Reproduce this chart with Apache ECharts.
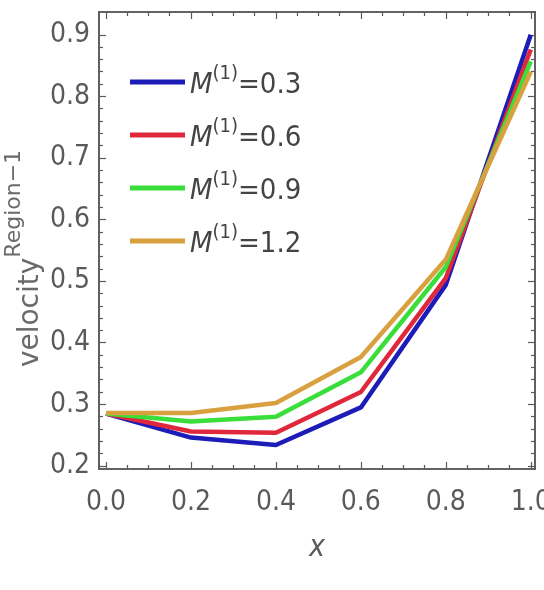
<!DOCTYPE html>
<html>
<head>
<meta charset="utf-8">
<script src="https://cdn.jsdelivr.net/npm/echarts@6/dist/echarts.min.js"></script>
<style>html,body{margin:0;padding:0;background:#fff;}#c{width:544px;height:590px;}</style>
</head>
<body>
<div id="c"></div>
<script>
// ---- data ----
var xValues = [0, 0.2, 0.4, 0.6, 0.8, 1.0];
var seriesNames = ['M(1)=0.3', 'M(1)=0.6', 'M(1)=0.9', 'M(1)=1.2'];
var legendValues = ['0.3', '0.6', '0.9', '1.2'];
var m03 = [0.285, 0.246, 0.234, 0.295, 0.494, 0.900];
var m06 = [0.285, 0.256, 0.254, 0.320, 0.505, 0.876];
var m09 = [0.285, 0.272, 0.280, 0.352, 0.523, 0.857];
var m12 = [0.286, 0.286, 0.302, 0.377, 0.535, 0.840];
var xTickLabels = [0, 0.2, 0.4, 0.6, 0.8, 1.0];
var yTickLabels = [0.2, 0.3, 0.4, 0.5, 0.6, 0.7, 0.8, 0.9];

var allSeries = [m03, m06, m09, m12];
var colors = ['#1c1cb8', '#e0283c', '#3ade3a', '#d9a040'];

function minorTicks(majors, parts) {
  var out = [];
  for (var i = 0; i < majors.length - 1; i++) {
    var step = (majors[i + 1] - majors[i]) / parts;
    for (var k = 1; k < parts; k++) out.push(+(majors[i] + k * step).toFixed(4));
  }
  return out;
}
var xMinor = minorTicks(xTickLabels, 4);
var yMinor = minorTicks(yTickLabels, 5);

var XMIN = -0.0165, XMAX = 1.01, YMIN = 0.195, YMAX = 0.937;
var frameColor = '#5a5a5a';
var narrow = "'Liberation Sans Narrow','DejaVu Sans Condensed',sans-serif";
var labelFont = { fontFamily: narrow, fontSize: 28, color: '#5a5a5a' };

function xAxisDef(pos, major, showLabel, name) {
  return {
    type: 'value', position: pos, min: XMIN, max: XMAX,
    axisLine: { show: true, onZero: false, lineStyle: { color: frameColor, width: 1.6 } },
    axisTick: { show: true, inside: true, length: major ? 7 : 4, customValues: major ? xTickLabels : xMinor, lineStyle: { color: frameColor, width: 1.2 } },
    axisLabel: showLabel ? Object.assign({ show: true, margin: 20, customValues: xTickLabels, formatter: function (v) { return v.toFixed(1); } }, labelFont) : { show: false },
    splitLine: { show: false },
    name: name || '', nameLocation: 'middle', nameGap: 64, nameMoveOverlap: false,
    nameTextStyle: { fontFamily: narrow, fontStyle: 'italic', fontSize: 30, color: '#5a5a5a' }
  };
}
function yAxisDef(pos, major, showLabel, withName) {
  var d = {
    type: 'value', position: pos, min: YMIN, max: YMAX,
    axisLine: { show: true, onZero: false, lineStyle: { color: frameColor, width: 1.6 } },
    axisTick: { show: true, inside: true, length: major ? 7 : 4, customValues: major ? yTickLabels : yMinor, lineStyle: { color: frameColor, width: 1.2 } },
    axisLabel: showLabel ? Object.assign({ show: true, margin: 9, customValues: yTickLabels, formatter: function (v) { return v.toFixed(1); } }, labelFont) : { show: false },
    splitLine: { show: false }
  };
  if (withName) {
    d.name = '{b|velocity}{s|Region\u22121}';
    d.nameLocation = 'middle';
    d.nameGap = 54;
    d.nameMoveOverlap = false;
    d.nameRotate = 90;
    d.nameTextStyle = {
      rich: {
        b: { fontFamily: "'DejaVu Sans',sans-serif", fontSize: 28, color: '#6a6a6a', lineHeight: 42, verticalAlign: 'bottom' },
        s: { fontFamily: "'DejaVu Sans',sans-serif", fontSize: 22, color: '#6a6a6a', lineHeight: 42, verticalAlign: 'top', padding: [0, 36, 0, 0] }
      }
    };
  }
  return d;
}

var series = allSeries.map(function (vals, i) {
  return {
    name: seriesNames[i], type: 'line', xAxisIndex: 0, yAxisIndex: 0,
    data: xValues.map(function (x, j) { return [x, vals[j]]; }),
    symbol: 'none', smooth: false,
    lineStyle: { color: colors[i], width: 4.5 },
    itemStyle: { color: colors[i] },
    z: 3 + i
  };
});

var chart = echarts.init(document.getElementById('c'), null, { renderer: 'canvas' });
chart.setOption({
  backgroundColor: '#ffffff',
  animation: false,
  grid: { left: 99, right: 9, top: 12, bottom: 121, containLabel: false, outerBoundsMode: 'none' },
  xAxis: [
    xAxisDef('bottom', true, true, 'x'),
    xAxisDef('bottom', false, false),
    xAxisDef('top', true, false),
    xAxisDef('top', false, false)
  ],
  yAxis: [
    yAxisDef('left', true, true, true),
    yAxisDef('left', false, false),
    yAxisDef('right', true, false),
    yAxisDef('right', false, false)
  ],
  legend: {
    show: true, orient: 'vertical', left: 125, top: 59,
    icon: 'rect', itemWidth: 55, itemHeight: 5, itemGap: 17,
    data: seriesNames,
    formatter: function (name) {
      var i = seriesNames.indexOf(name);
      return '{m|M}{s|(1)}{v|=' + legendValues[i] + '}';
    },
    textStyle: {
      rich: {
        m: { fontFamily: narrow, fontStyle: 'italic', fontSize: 29, color: '#444', lineHeight: 36, verticalAlign: 'bottom' },
        s: { fontFamily: narrow, fontSize: 20, color: '#444', lineHeight: 36, verticalAlign: 'top' },
        v: { fontFamily: narrow, fontSize: 29, color: '#444', lineHeight: 36, verticalAlign: 'bottom' }
      }
    }
  },
  series: series
});
</script>
</body>
</html>
